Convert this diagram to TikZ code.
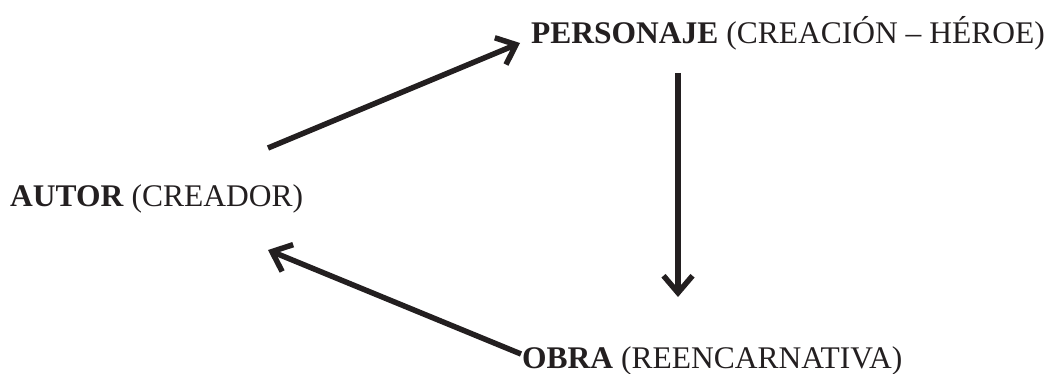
\documentclass[tikz,border=0pt]{standalone}
\usepackage{fontspec}
\setmainfont{Liberation Serif}
\usetikzlibrary{arrows.meta}
\definecolor{ink}{HTML}{231F20}
\begin{document}
\begin{tikzpicture}[x=1pt,y=-1pt,
  lbl/.style={anchor=base west,inner sep=0pt,text=ink,font=\fontsize{31.5}{37}\selectfont},
  arr/.style={draw=ink,line width=5.5pt,-{Straight Barb[length=17pt,width=29pt]}}]
\useasboundingbox (0,0) rectangle (1054,374);
\node[lbl] (autor) at (10,207) {\textbf{AUTOR} (CREADOR)};
\node[lbl] (pers) at (531,44) {\textbf{PERSONAJE} (CREACIÓN – HÉROE)};
\node[lbl] (obra) at (522,368) {\textbf{OBRA} (REENCARNATIVA)};
\coordinate (a1s) at (268,148);
\coordinate (a1e) at (520,43);
\coordinate (a2s) at (678,73);
\coordinate (a2e) at (678,297);
\coordinate (a3s) at (521,354);
\coordinate (a3e) at (268,250);
\draw[arr] (a1s) -- (a1e);
\draw[arr] (a2s) -- (a2e);
\draw[arr] (a3s) -- (a3e);
\end{tikzpicture}
\end{document}
